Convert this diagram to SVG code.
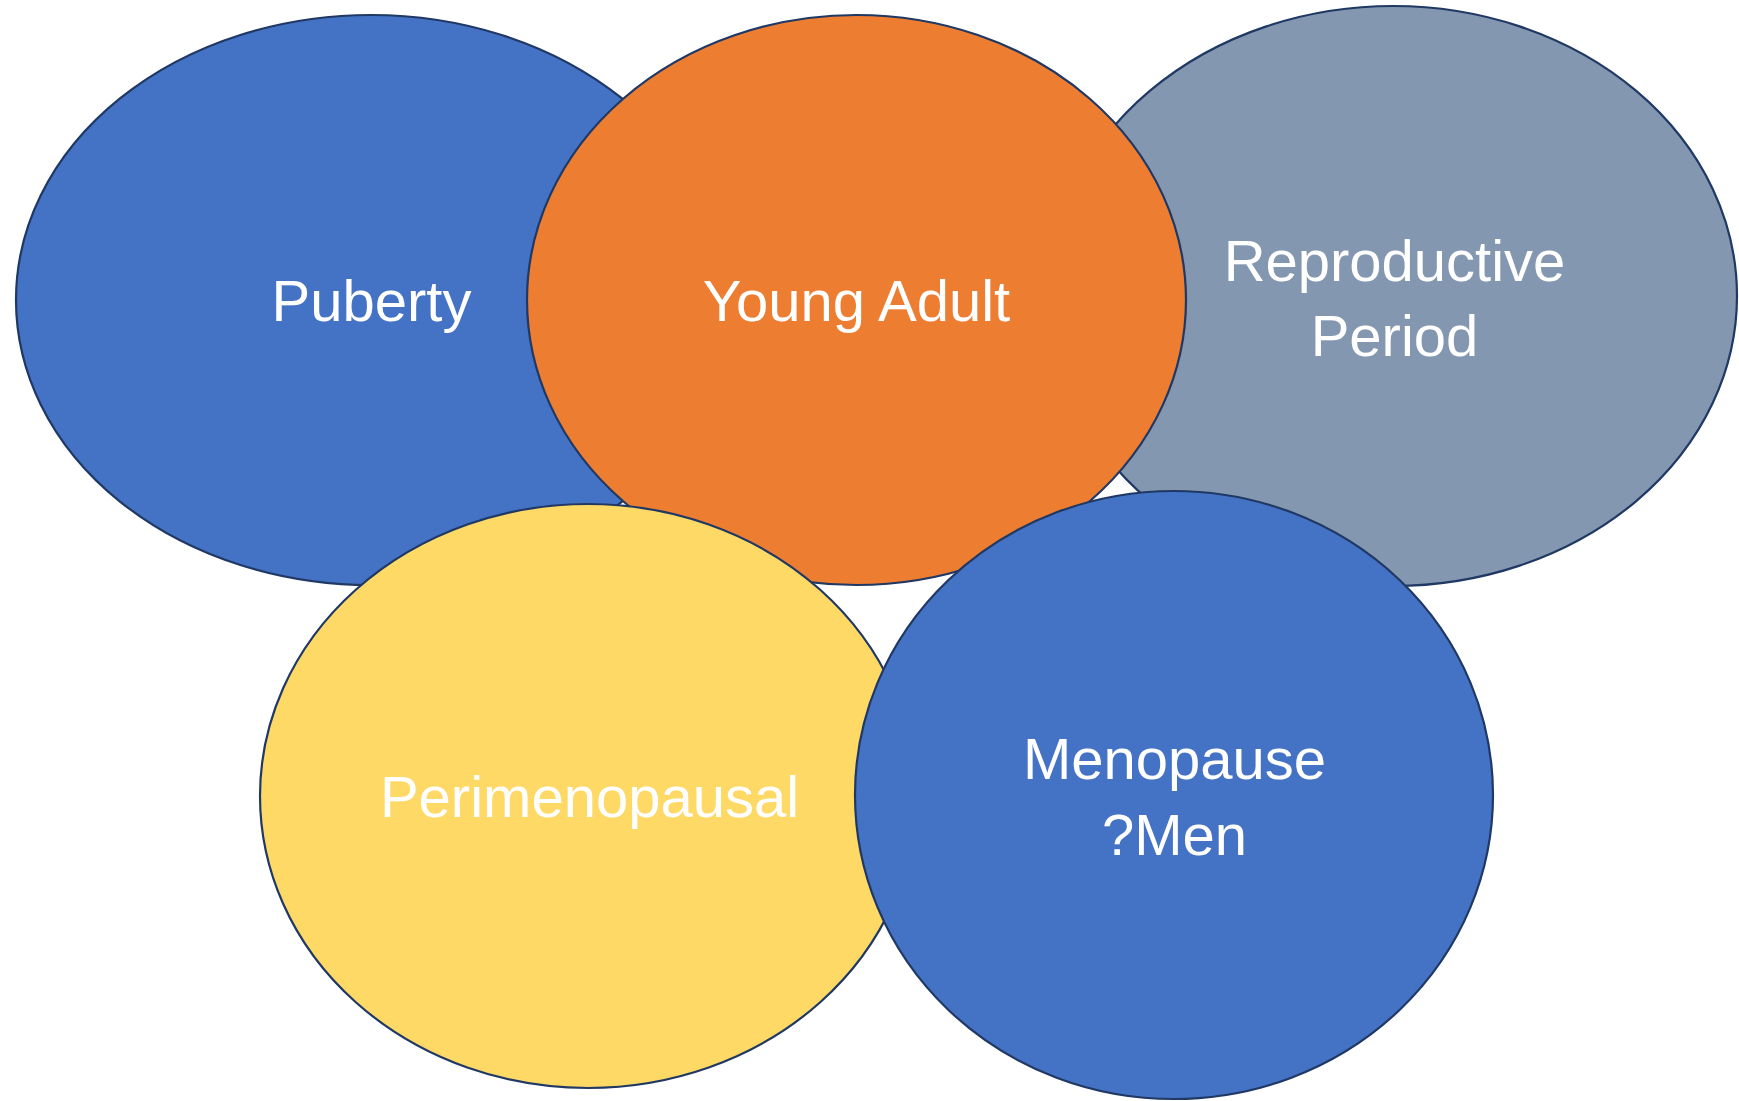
<svg xmlns="http://www.w3.org/2000/svg" width="1739" height="1101" viewBox="0 0 1739 1101">
<style>
.n{stroke:#1F3864;stroke-width:2.2}
.t{font-family:"Liberation Sans",Arial,sans-serif;font-size:58px;fill:#FFFFFF;text-anchor:middle}
</style>
<rect width="1739" height="1101" fill="#FFFFFF"/>
<g id="connectors"></g>
<g id="puberty">
<ellipse class="n" cx="371" cy="300" rx="355" ry="285" fill="#4472C4"/>
<text class="t" x="371.5" y="321">Puberty</text>
</g>
<g id="reproductive">
<ellipse class="n" cx="1393" cy="296" rx="344" ry="290" fill="#8497B0"/>
<text class="t" x="1394.5" y="281">Reproductive</text>
<text class="t" x="1394.5" y="356">Period</text>
</g>
<g id="young-adult">
<ellipse class="n" cx="856.5" cy="300" rx="329.5" ry="285" fill="#ED7D31"/>
<text class="t" x="856.5" y="321">Young Adult</text>
</g>
<g id="perimenopausal">
<ellipse class="n" cx="588" cy="796" rx="328" ry="292" fill="#FFD966"/>
<text class="t" x="589.5" y="817">Perimenopausal</text>
</g>
<g id="menopause">
<ellipse class="n" cx="1174" cy="795" rx="319" ry="304" fill="#4472C4"/>
<text class="t" x="1174.5" y="779">Menopause</text>
<text class="t" x="1174.5" y="855">?Men</text>
</g>
</svg>
